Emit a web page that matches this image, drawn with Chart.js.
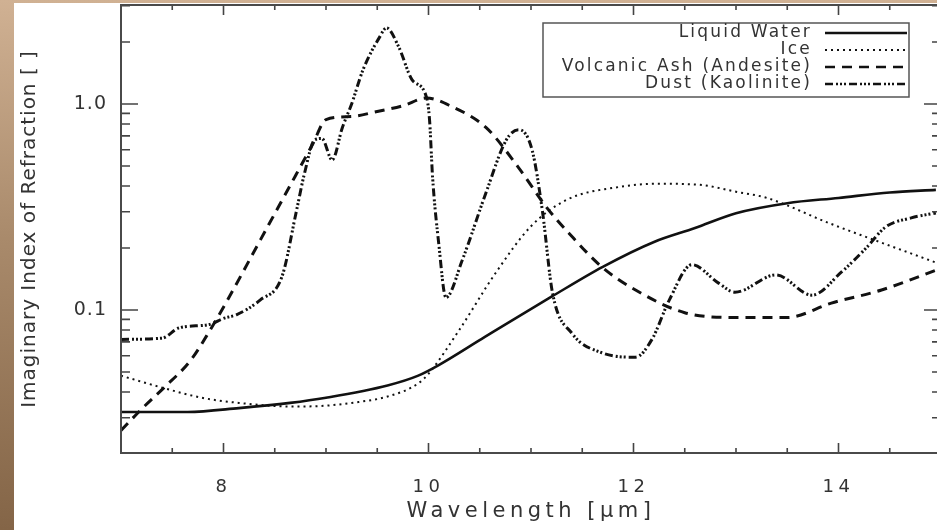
<!DOCTYPE html>
<html>
<head>
<meta charset="utf-8">
<script src="https://cdn.jsdelivr.net/npm/chart.js@4.4.1/dist/chart.umd.min.js"></script>
<style>
  html, body { margin: 0; padding: 0; width: 937px; height: 530px; overflow: hidden; }
  body { background: linear-gradient(to bottom, #d0b193 0%, #a98a6b 45%, #846547 100%); }
  #wrap { position: absolute; left: 14px; top: 3px; width: 931px; height: 527px; background: #fff; }
</style>
</head>
<body>
<div id="wrap"><canvas id="chart"></canvas></div>
<script>
// values (wavelength in um, imaginary index)
const waterX = [7.0, 7.65, 8.15, 8.65, 9.0, 9.6, 9.9, 10.1, 10.55, 11.2, 11.7, 12.2, 12.6, 13.0, 13.5, 14.0, 14.5, 14.95];
const waterY = [0.032, 0.032, 0.0334, 0.0354, 0.0375, 0.043, 0.048, 0.054, 0.074, 0.116, 0.162, 0.214, 0.25, 0.295, 0.33, 0.35, 0.372, 0.383];

const iceX = [7.0, 7.4, 7.8, 8.15, 8.65, 8.95, 9.25, 9.6, 9.9, 10.0, 10.3, 10.65, 11.0, 11.35, 11.85, 12.25, 12.65, 13.0, 13.3, 13.9, 14.4, 14.95];
const iceY = [0.048, 0.042, 0.0374, 0.0354, 0.034, 0.0342, 0.0354, 0.038, 0.044, 0.049, 0.08, 0.15, 0.255, 0.343, 0.395, 0.41, 0.405, 0.375, 0.35, 0.265, 0.214, 0.17];

const ashX = [7.0, 7.2, 7.42, 7.68, 7.87, 8.04, 8.36, 8.55, 8.71, 8.87, 9.0, 9.25, 9.5, 9.75, 9.98, 10.23, 10.56, 10.88, 11.15, 11.37, 11.69, 12.02, 12.5, 13.0, 13.5, 13.93, 14.42, 14.95];
const ashY = [0.026, 0.033, 0.042, 0.057, 0.08, 0.112, 0.219, 0.326, 0.456, 0.638, 0.84, 0.87, 0.92, 0.98, 1.07, 0.97, 0.77, 0.49, 0.316, 0.236, 0.162, 0.125, 0.097, 0.092, 0.092, 0.108, 0.125, 0.156];

const dustX = [7.0, 7.4, 7.57, 7.86, 8.0, 8.13, 8.36, 8.57, 8.71, 8.79, 8.89, 8.96, 9.06, 9.16, 9.25, 9.36, 9.52, 9.59, 9.71, 9.84, 9.98, 10.01, 10.04, 10.1, 10.17, 10.33, 10.56, 10.76, 10.88, 11.01, 11.11, 11.21, 11.4, 11.69, 12.02, 12.18, 12.35, 12.57, 12.83, 12.99, 13.39, 13.74, 14.03, 14.27, 14.46, 14.71, 14.95];
const dustY = [0.072, 0.073, 0.082, 0.085, 0.091, 0.095, 0.112, 0.145, 0.3, 0.46, 0.67, 0.68, 0.535, 0.77, 1.0, 1.46, 2.1, 2.34, 1.89, 1.31, 1.08, 0.84, 0.44, 0.21, 0.115, 0.175, 0.37, 0.67, 0.75, 0.6, 0.306, 0.121, 0.077, 0.062, 0.059, 0.072, 0.112, 0.166, 0.135, 0.122, 0.148, 0.118, 0.153, 0.2, 0.253, 0.28, 0.296];

const seriesNames = ['Liquid Water', 'Ice', 'Volcanic Ash (Andesite)', 'Dust (Kaolinite)'];

const xTickValues = [8, 10, 12, 14];
const xTickLabels = ['8', '10', '12', '14'];
const yTickValues = [0.1, 1];
const yTickLabels = ['0.1', '1.0'];

const FONT = '"DejaVu Sans", sans-serif';
const INK = '#333';

function pts(xs, ys) {
    return xs.map((x, i) => ({ x: x, y: ys[i] }));
}

function line(label, xs, ys, width, dash) {
    return {
        label: label,
        data: pts(xs, ys),
        borderColor: '#111',
        borderWidth: width,
        borderDash: dash,
        pointRadius: 0,
        fill: false,
        cubicInterpolationMode: 'monotone'
    };
}

// border box, inward tick marks and text spacing
const frame = {
    id: 'frame',
    beforeDraw: (chart) => { chart.ctx.letterSpacing = '1px'; },
    afterDatasetsDraw: (chart) => { chart.ctx.letterSpacing = '4.5px'; },
    afterDraw: (chart) => {
        const ctx = chart.ctx;
        const a = chart.chartArea;
        const x = chart.scales.x;
        const y = chart.scales.y;
        ctx.save();
        ctx.letterSpacing = '0px';
        ctx.strokeStyle = '#444';
        ctx.lineWidth = 1.6;
        ctx.beginPath();
        for (let v = 7.5; v < 15; v += 0.5) {
            const px = x.getPixelForValue(v);
            const len = xTickValues.includes(v) ? 10 : 5;
            ctx.moveTo(px, a.bottom); ctx.lineTo(px, a.bottom - len);
            ctx.moveTo(px, a.top); ctx.lineTo(px, a.top + len);
        }
        for (const dec of [0.01, 0.1, 1]) {
            for (let m = 1; m < 10; m++) {
                const v = dec * m;
                if (v < y.min || v > y.max) continue;
                const py = y.getPixelForValue(v);
                const len = m === 1 ? 17 : 9;
                ctx.moveTo(a.left, py); ctx.lineTo(a.left + len, py);
                ctx.moveTo(a.right, py); ctx.lineTo(a.right - len, py);
            }
        }
        ctx.stroke();
        ctx.strokeStyle = '#4a4a4a';
        ctx.lineWidth = 2;
        ctx.strokeRect(a.left, a.top, a.right - a.left, a.bottom - a.top);
        ctx.restore();
    }
};

const legendBox = {
    id: 'legendBox',
    afterDraw: (chart) => {
        const ctx = chart.ctx;
        ctx.save();
        ctx.fillStyle = '#fff';
        ctx.fillRect(529, 20, 366, 74);
        ctx.strokeStyle = '#555';
        ctx.lineWidth = 1.5;
        ctx.strokeRect(529, 20, 366, 74);
        ctx.letterSpacing = '2.2px';
        ctx.font = '17px ' + FONT;
        ctx.textAlign = 'right';
        ctx.textBaseline = 'middle';
        chart.data.datasets.forEach((ds, i) => {
            const yy = 30 + i * 17;
            ctx.fillStyle = INK;
            ctx.fillText(ds.label, 798, yy);
            ctx.setLineDash(ds.borderDash || []);
            ctx.lineWidth = Math.min(ds.borderWidth, 2.5);
            ctx.strokeStyle = ds.borderColor;
            ctx.beginPath();
            ctx.moveTo(811, yy);
            ctx.lineTo(893, yy);
            ctx.stroke();
        });
        ctx.restore();
    }
};

const config = {
    type: 'line',
    data: {
        datasets: [
            line(seriesNames[0], waterX, waterY, 2.6, []),
            line(seriesNames[1], iceX, iceY, 2, [2, 4]),
            line(seriesNames[2], ashX, ashY, 3, [10, 7]),
            line(seriesNames[3], dustX, dustY, 3, [8, 3, 2, 2, 2, 2, 2, 3])
        ]
    },
    plugins: [frame, legendBox],
    options: {
        responsive: true,
        maintainAspectRatio: false,
        animation: false,
        layout: { padding: { top: 2, right: 4, left: 0, bottom: 0 } },
        plugins: { legend: { display: false }, tooltip: { enabled: false } },
        scales: {
            x: {
                type: 'linear',
                min: 7,
                max: 15,
                afterBuildTicks: (s) => { s.ticks = xTickValues.map(v => ({ value: v })); },
                afterFit: (s) => { s.height = 77; s.paddingLeft = 0; s.paddingRight = 0; },
                grid: { display: false, drawTicks: false, z: 1 },
                border: { display: false },
                ticks: {
                    z: 1,
                    autoSkip: false,
                    maxRotation: 0,
                    padding: 24,
                    color: INK,
                    font: { family: FONT, size: 18 },
                    callback: (v, i) => xTickLabels[i]
                },
                title: {
                    display: true,
                    text: 'Wavelength [μm]',
                    color: INK,
                    font: { family: FONT, size: 21 },
                    padding: { top: 0, bottom: 6 }
                }
            },
            y: {
                type: 'logarithmic',
                min: 0.02022,
                max: 3.024,
                afterBuildTicks: (s) => { s.ticks = yTickValues.map(v => ({ value: v })); },
                afterFit: (s) => { s.width = 107; s.paddingTop = 0; s.paddingBottom = 0; },
                grid: { display: false, drawTicks: false },
                border: { display: false },
                ticks: {
                    autoSkip: false,
                    padding: 14,
                    color: INK,
                    font: { family: FONT, size: 19 },
                    callback: (v, i) => yTickLabels[i]
                },
                title: {
                    display: true,
                    text: 'Imaginary Index of Refraction [ ]',
                    color: INK,
                    font: { family: FONT, size: 20 },
                    padding: { top: 4, bottom: 0 }
                }
            }
        }
    }
};

new Chart(document.getElementById('chart'), config);
</script>
</body>
</html>
